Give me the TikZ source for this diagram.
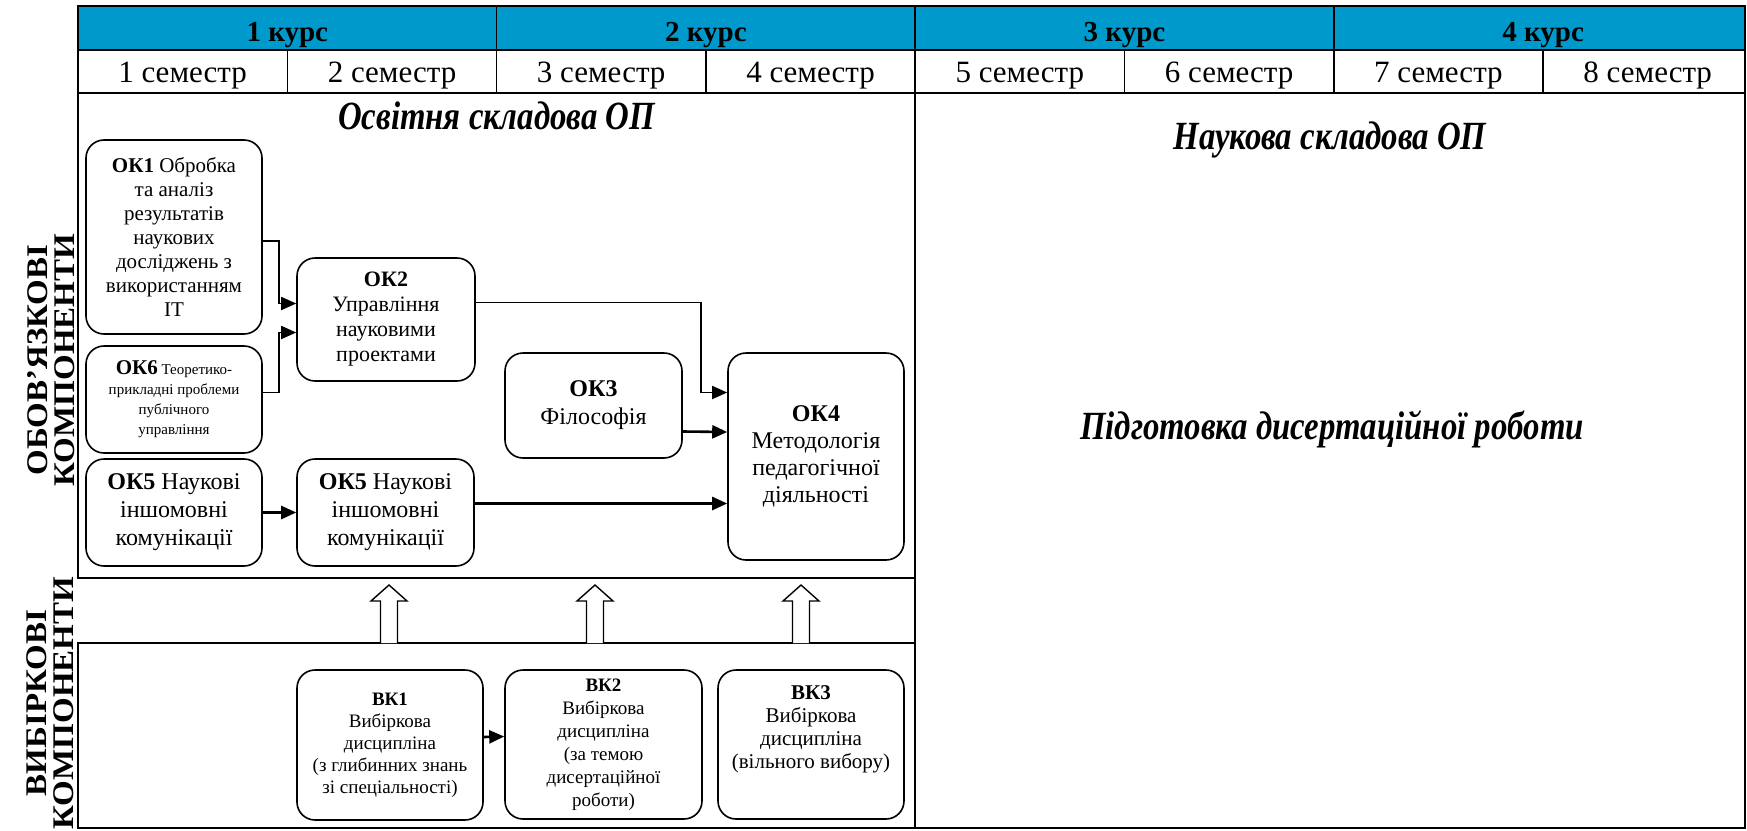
\documentclass[tikz,border=0pt]{standalone}
\usepackage{fontspec}
\setmainfont{Liberation Serif}
\newfontfamily\headfont[FakeStretch=0.82]{Liberation Serif}
\newfontfamily\sidefont[FakeStretch=1.1]{Liberation Serif}
\usetikzlibrary{arrows.meta,calc}
\definecolor{kursblue}{RGB}{0,153,204}

\begin{document}
\begin{tikzpicture}[x=1pt,y=1pt,yscale=-1,xscale=1,
  box/.style={draw, line width=1.6pt, rounded corners=18pt, align=center, inner sep=2pt},
  conn/.style={line width=1.8pt, -{Triangle[length=15pt,width=13pt]}},
  thickconn/.style={conn, line width=2.6pt},
  frame/.style={line width=1.5pt},
  kurs/.style={anchor=base, font=\bfseries\fontsize{29}{30}\selectfont},
  sem/.style={anchor=base, font=\fontsize{31}{32}\selectfont},
  heading/.style={font=\headfont\bfseries\itshape\fontsize{40}{44}\selectfont},
  sidelabel/.style={rotate=90, align=center, font=\sidefont\bfseries\fontsize{30}{27}\selectfont},
  hollow/.style={line width=1.4pt, fill=white}]
\useasboundingbox (0,0) rectangle (1747,830);

% table head
\fill[kursblue] (78,6) rectangle (1745,50);
\draw[frame] (78,6) rectangle (1745,93);
\draw[frame] (78,50) -- (1745,50);
\draw[frame] (496.6,6) -- (496.6,93);
\draw[frame] (915.2,6) -- (915.2,93);
\draw[frame] (1333.8,6) -- (1333.8,93);
\draw[frame] (287.3,50) -- (287.3,93);
\draw[frame] (705.9,50) -- (705.9,93);
\draw[frame] (1124.5,50) -- (1124.5,93);
\draw[frame] (1543.1,50) -- (1543.1,93);

\node[kurs] (k1) at (287.3,41) {1 курс};
\node[kurs] (k2) at (705.9,41) {2 курс};
\node[kurs] (k3) at (1124.5,41) {3 курс};
\node[kurs] (k4) at (1543.1,41) {4 курс};

\node[sem] (s1) at (182.6,82) {1 семестр};
\node[sem] (s2) at (392,82) {2 семестр};
\node[sem] (s3) at (601.2,82) {3 семестр};
\node[sem] (s4) at (810.5,82) {4 семестр};
\node[sem] (s5) at (1019.8,82) {5 семестр};
\node[sem] (s6) at (1229.1,82) {6 семестр};
\node[sem] (s7) at (1438.4,82) {7 семестр};
\node[sem] (s8) at (1647.7,82) {8 семестр};

% panels
\draw[frame] (78,93) rectangle (915.2,578);
\draw[frame] (78,643) rectangle (915.2,828);
\draw[frame] (915.2,93) rectangle (1745,828);

\node[heading] (osvita) at (496.6,116) {Освітня складова ОП};
\node[heading] (nauka) at (1330,140) {Наукова складова ОП};
\node[heading] (dysert) at (1332,429) {Підготовка дисертаційної роботи};

\node[sidelabel] (oblig) at (51,360) {ОБОВ’ЯЗКОВІ\\КОМПОНЕНТИ};
\node[sidelabel] (vybir) at (50,703) {ВИБІРКОВІ\\КОМПОНЕНТИ};

% obligatory components
\node[box, minimum width=176pt, minimum height=194pt, font=\fontsize{21}{24}\selectfont] (ok1) at (174,237)
  {\textbf{ОК1} Обробка\\та аналіз\\результатів\\наукових\\досліджень з\\використанням\\IT};
\node[box, minimum width=176pt, minimum height=107pt, font=\fontsize{15}{20}\selectfont] (ok6) at (174,399.5)
  {{\fontsize{21}{20}\selectfont\bfseries ОК6} Теоретико-\\прикладні проблеми\\публічного\\управління};
\node[box, minimum width=178pt, minimum height=123pt, font=\fontsize{22}{25}\selectfont] (ok2) at (386,319.5)
  {\textbf{ОК2}\\Управління\\науковими\\проектами};
\node[box, minimum width=177pt, minimum height=105pt, font=\fontsize{24}{28}\selectfont] (ok3) at (593.5,405.5)
  {\textbf{ОК3}\\Філософія};
\node[box, minimum width=176pt, minimum height=207pt, font=\fontsize{24}{27}\selectfont] (ok4) at (816,456.5)
  {\textbf{ОК4}\\Методологія\\педагогічної\\діяльності};
\node[box, minimum width=176pt, minimum height=107pt, font=\fontsize{24}{28}\selectfont] (ok5a) at (174,512.5)
  {\textbf{ОК5} Наукові\\іншомовні\\комунікації};
\node[box, minimum width=177pt, minimum height=107pt, font=\fontsize{24}{28}\selectfont] (ok5b) at (385.5,512.5)
  {\textbf{ОК5} Наукові\\іншомовні\\комунікації};

% elective components
\node[box, minimum width=186pt, minimum height=150pt, font=\fontsize{19}{22}\selectfont] (vk1) at (390,745)
  {\textbf{ВК1}\\Вибіркова\\дисципліна\\(з глибинних знань\\зі спеціальності)};
\node[box, minimum width=197pt, minimum height=149pt, font=\fontsize{19}{23}\selectfont] (vk2) at (603.5,744.5)
  {\textbf{ВК2}\\Вибіркова\\дисципліна\\(за темою\\дисертаційної\\роботи)};
\node[box, minimum width=186pt, minimum height=149pt, font=\fontsize{21}{23}\selectfont] (vk3) at (811,744.5)
  {\textbf{ВК3}\\Вибіркова\\дисципліна\\(вільного вибору)\\[12pt]};

% connectors
\draw[conn] ($(ok1.east)+(0,4)$) -- ++(16,0) |- ($(ok2.west)+(0,-16)$);
\draw[conn] ($(ok6.east)+(0,-7)$) -- ++(16,0) |- ($(ok2.west)+(0,13)$);
\draw[conn] ($(ok2.east)+(0,-17)$) -- ++(225,0) |- ($(ok4.west)+(0,-64)$);
\draw[thickconn] ($(ok3.east)+(0,26)$) -- ($(ok4.west)+(0,-24.5)$);
\draw[thickconn] (ok5a) -- (ok5b);
\draw[thickconn] ($(ok5b.east)+(0,-9)$) -- ($(ok4.west)+(0,47)$);
\draw[thickconn] ($(vk1.east)+(0,-8)$) -- ($(vk2.west)+(0,-8)$);

% hollow arrows
\draw[hollow] (380.5,643) -- (380.5,601) -- (371,601) -- (389,585) -- (407,601) -- (397.5,601) -- (397.5,643);
\draw[hollow] (586.5,643) -- (586.5,601) -- (577,601) -- (595,585) -- (613,601) -- (603.5,601) -- (603.5,643);
\draw[hollow] (792.5,643) -- (792.5,601) -- (783,601) -- (801,585) -- (819,601) -- (809.5,601) -- (809.5,643);
\end{tikzpicture}
\end{document}
